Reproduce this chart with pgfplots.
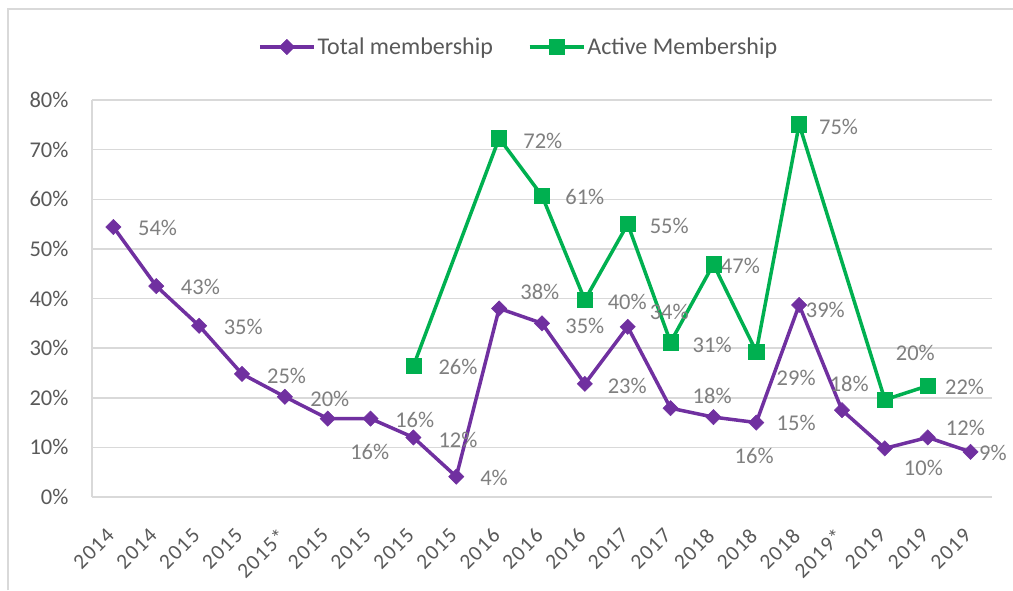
\documentclass[border=0pt]{standalone}
\usepackage{fontspec}
\setmainfont{Carlito}
\newfontfamily\tickfont{Carlito}[LetterSpace=6]
\usepackage{pgfplots}
\pgfplotsset{compat=1.18}
\definecolor{tpurple}{HTML}{7030A0}
\definecolor{tgreen}{HTML}{00B050}
\definecolor{gridc}{HTML}{D9D9D9}
\definecolor{lblc}{HTML}{7F7F7F}
\definecolor{tickc}{HTML}{595959}
\tikzset{lbl/.style={font=\fontsize{22.5}{27}\selectfont, text=lblc, anchor=center, inner sep=0pt}}
\begin{document}
\begin{tikzpicture}
\useasboundingbox (-92pt,-93pt) rectangle (921pt,497pt);
\draw[gridc, line width=1.5pt] (-84pt,-93pt) -- (-84pt,488pt) -- (921pt,488pt);
\begin{axis}[
  scale only axis, width=900pt, height=397pt,
  at={(0pt,0pt)}, anchor=south west,
  xmin=-0.5, xmax=20.5, ymin=0, ymax=80,
  clip=false,
  axis lines*=left,
  axis line style={gridc, line width=1.5pt, -},
  ymajorgrids, grid style={gridc, line width=1.5pt},
  major tick length=0pt,
  ytick={0,10,...,80},
  yticklabels={0\%,10\%,20\%,30\%,40\%,50\%,60\%,70\%,80\%},
  xtick={0,...,20},
  xticklabels={2014,2014,2015,2015,2015*,2015,2015,2015,2015,2016,2016,2016,2017,2017,2018,2018,2018,2019*,2019,2019,2019},
  yticklabel style={font=\fontsize{22.5}{27}\selectfont, text=tickc, anchor=east, xshift=-20pt},
  xticklabel style={font=\tickfont\fontsize{21.5}{25}\selectfont, text=tickc, xshift=-8pt, yshift=-25pt, rotate=45, anchor=north east},
  legend columns=2,
  legend style={draw=none, fill=none, at={(0.474,1.1335)}, anchor=center,
    font=\fontsize{24}{28}\selectfont, text=tickc,
    /tikz/every even column/.append style={column sep=33pt}},
  legend image code/.code={\draw[#1, mark repeat=2, mark phase=2] plot coordinates {(0pt,0pt) (27pt,0pt) (54pt,0pt)};},
]
\addplot[tpurple, line width=3.5pt, mark=square*, mark size=5.4pt, mark options={solid, rotate=45, line width=0.5pt}]
coordinates {(0,54.4) (1,42.5) (2,34.5) (3,24.8) (4,20.2) (5,15.8) (6,15.8) (7,12.0) (8,4.1) (9,38.0) (10,35.0) (11,22.8) (12,34.3) (13,17.9) (14,16.1) (15,15.0) (16,38.7) (17,17.5) (18,9.8) (19,12.0) (20,9.1)};
\addlegendentry{Total membership}
\addplot[tgreen, line width=3.5pt, mark=square*, mark size=7.6pt, mark options={solid, line width=0.5pt}]
coordinates {(7,26.4) (9,72.3) (10,60.7) (11,39.7) (12,55.0) (13,31.2) (14,46.9) (15,29.3) (16,75.1) (18,19.6) (19,22.4)};
\addlegendentry{Active Membership}
% Total membership labels
\node[lbl] at (axis cs:1.03,54.2) {54\%};
\node[lbl] at (axis cs:2.03,42.3) {43\%};
\node[lbl] at (axis cs:3.03,34.3) {35\%};
\node[lbl] at (axis cs:4.04,24.4) {25\%};
\node[lbl] at (axis cs:5.05,19.8) {20\%};
\node[lbl] at (axis cs:5.98,9.1) {16\%};
\node[lbl] at (axis cs:7.03,15.5) {16\%};
\node[lbl] at (axis cs:8.04,11.5) {12\%};
\node[lbl] at (axis cs:8.88,3.8) {4\%};
\node[lbl] at (axis cs:9.95,41.3) {38\%};
\node[lbl] at (axis cs:11.0,34.5) {35\%};
\node[lbl] at (axis cs:11.99,22.4) {23\%};
\node[lbl] at (axis cs:12.97,37.3) {34\%};
\node[lbl] at (axis cs:13.97,20.4) {18\%};
\node[lbl] at (axis cs:14.95,8.3) {16\%};
\node[lbl] at (axis cs:15.93,14.9) {15\%};
\node[lbl] at (axis cs:16.61,37.7) {39\%};
\node[lbl] at (axis cs:17.17,22.8) {18\%};
\node[lbl] at (axis cs:18.9,5.8) {10\%};
\node[lbl] at (axis cs:19.88,13.9) {12\%};
\node[lbl] at (axis cs:20.52,8.9) {9\%};
% Active membership labels
\node[lbl] at (axis cs:8.04,26.2) {26\%};
\node[lbl] at (axis cs:10.02,71.8) {72\%};
\node[lbl] at (axis cs:11.0,60.5) {61\%};
\node[lbl] at (axis cs:11.99,39.3) {40\%};
\node[lbl] at (axis cs:12.97,54.6) {55\%};
\node[lbl] at (axis cs:13.97,30.6) {31\%};
\node[lbl] at (axis cs:14.63,46.6) {47\%};
\node[lbl] at (axis cs:15.93,24.0) {29\%};
\node[lbl] at (axis cs:16.92,74.6) {75\%};
\node[lbl] at (axis cs:18.71,29.0) {20\%};
\node[lbl] at (axis cs:19.86,22.2) {22\%};
\end{axis}
\end{tikzpicture}
\end{document}
